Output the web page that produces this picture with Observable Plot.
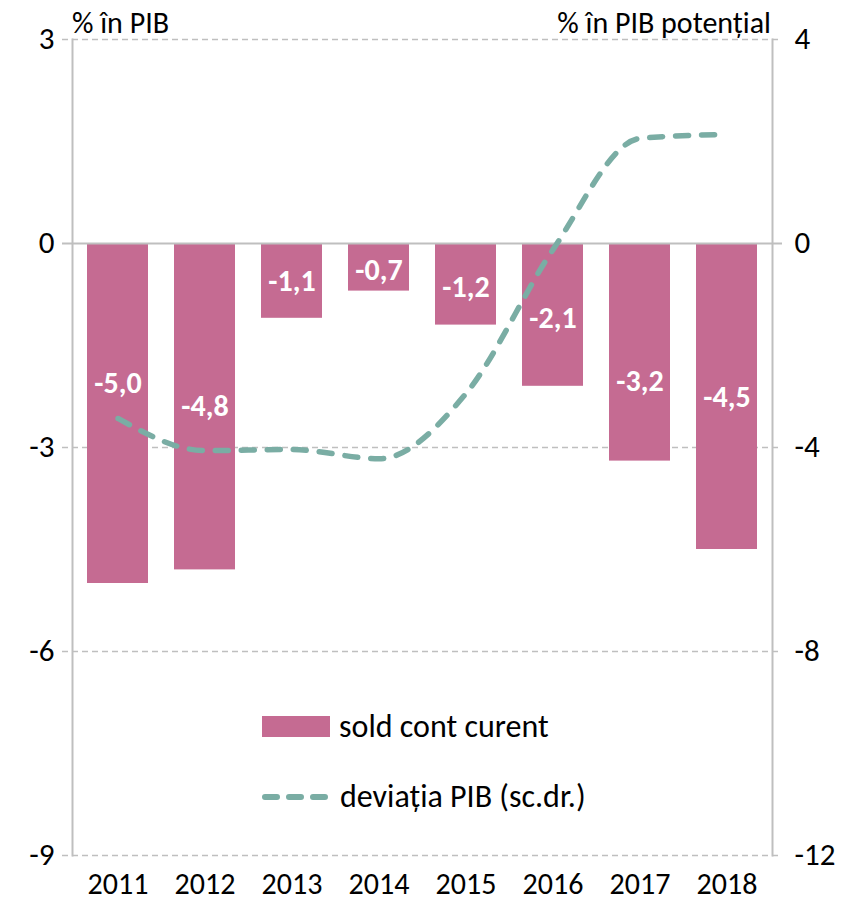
<!DOCTYPE html>
<html><head><meta charset="utf-8">
<script src="https://cdn.jsdelivr.net/npm/d3@7"></script>
<script src="https://cdn.jsdelivr.net/npm/@observablehq/plot@0.6"></script>
<style>
body{margin:0;background:#fff;}
#chart{position:relative;width:858px;height:900px;font-family:Carlito,Calibri,Lato,sans-serif;}
.t{position:absolute;font-size:31px;color:#000;white-space:nowrap;line-height:1;}
.h{font-size:30px;}
</style></head>
<body><div id="chart">
<div class="t h" style="left:72px;top:8px;">% în PIB</div>
<div class="t h" style="right:87px;top:8px;">% în PIB potențial</div>
<div style="position:absolute;left:262px;top:716px;width:68px;height:21px;background:#C56B92;"></div>
<div class="t" style="left:339px;top:711px;font-size:32px;">sold cont curent</div>
<svg style="position:absolute;left:255px;top:787px;" width="85" height="20"><line x1="10" y1="10" x2="72" y2="10" stroke="#7AADA4" stroke-width="6" stroke-dasharray="12,12" stroke-linecap="round"/></svg>
<div class="t" style="left:340px;top:781px;font-size:32px;">deviația PIB (sc.dr.)</div>
</div>
<script>
const years = ["2011","2012","2013","2014","2015","2016","2017","2018"];
const soldCont = [-5.0,-4.8,-1.1,-0.7,-1.2,-2.1,-3.2,-4.5];
const deviatie = [-3.43,-4.06,-4.04,-4.22,-2.94,-0.12,2.06,2.14];
const labelAt = [-2.06,-2.4,-0.55,-0.4,-0.65,-1.1,-2.03,-2.27];
const leftTicks = [3,0,-3,-6,-9];
const barColor = "#C56B92", lineColor = "#7AADA4", gridColor = "#BFBFBF";
const toLeft = v => v*3/4;
const fmt = v => (v<0?"-":"") + Math.abs(v).toFixed(1).replace(".",",");
const fmtInt = v => (v<0?"-":"") + Math.abs(Math.round(v));

const bars = years.map((y,i)=>({year:y, v:soldCont[i], ly:labelAt[i]}));
const line = years.map((y,i)=>({year:y, d:toLeft(deviatie[i])}));

const plot = Plot.plot({
  width:858, height:900,
  marginLeft:72, marginRight:86, marginTop:39, marginBottom:45,
  style:{fontFamily:"Carlito,Calibri,Lato,sans-serif", fontSize:"30px", background:"transparent", overflow:"visible"},
  x:{type:"band", domain:years, paddingInner:0.3, paddingOuter:0.15, align:0.5},
  y:{domain:[-9,3]},
  marks:[
    Plot.ruleY(leftTicks.filter(t=>t!==0), {stroke:gridColor, strokeOpacity:1, strokeWidth:1.5, strokeDasharray:"6,4", insetLeft:-10, insetRight:-10}),
    Plot.frame({anchor:"left", stroke:gridColor, strokeOpacity:1, strokeWidth:2}),
    Plot.frame({anchor:"right", stroke:gridColor, strokeOpacity:1, strokeWidth:2}),
    Plot.barY(bars, {x:"year", y:"v", fill:barColor}),
    Plot.ruleY([0], {stroke:gridColor, strokeOpacity:1, strokeWidth:2, insetLeft:-10, insetRight:-10}),
    Plot.lineY(line, {x:"year", y:"d", stroke:lineColor, strokeWidth:5.5, strokeDasharray:"13,13", curve:"monotone-x", strokeLinecap:"round"}),
    Plot.text(bars, {x:"year", y:"ly", text:d=>fmt(d.v), fill:"white", fontWeight:"bold", fontSize:30}),
    Plot.axisY(leftTicks, {anchor:"left", tickSize:0, tickPadding:18, tickFormat:fmtInt, fontSize:31, fill:"#000", label:null}),
    Plot.axisY(leftTicks, {anchor:"right", tickSize:0, tickPadding:22, tickFormat:d=>fmtInt(d*4/3), fontSize:31, fill:"#000", label:null, textAnchor:"start"}),
    Plot.axisX({tickSize:0, tickPadding:17, fontSize:30, fill:"#000", label:null})
  ]
});
plot.style.position = "absolute"; plot.style.left = "0"; plot.style.top = "0";
document.getElementById("chart").prepend(plot);
</script>
</body></html>
